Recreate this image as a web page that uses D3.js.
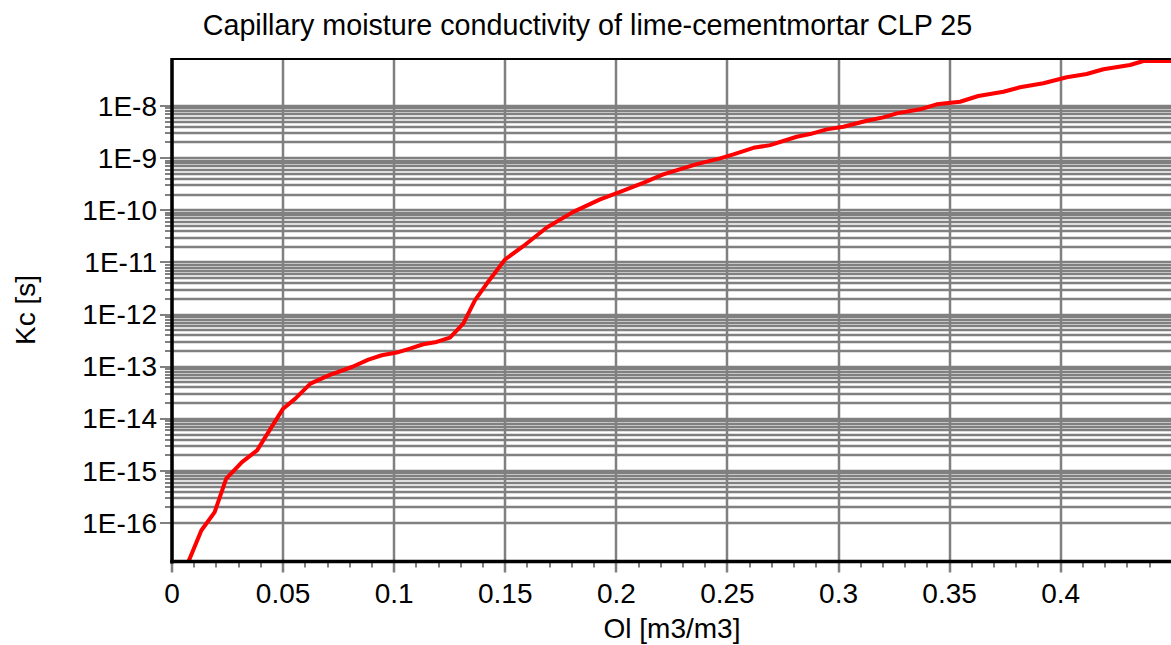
<!DOCTYPE html>
<html>
<head>
<meta charset="utf-8">
<script src="https://cdn.jsdelivr.net/npm/d3@7"></script>
<style>
  html, body { margin: 0; padding: 0; background: #fff; }
  svg { display: block; font-family: "Liberation Sans", Arial, sans-serif; }
</style>
</head>
<body>
<svg id="chart" width="1171" height="645"></svg>
<script>
// Moisture content Ol [m3/m3]
const moisture = [
  0.0075, 0.0132, 0.0192, 0.0244, 0.0315, 0.0383, 0.0450, 0.0500, 0.0555, 0.0623,
  0.0705, 0.0810, 0.0884, 0.0944, 0.1011, 0.1071, 0.1131, 0.1191, 0.1251, 0.1311,
  0.1364, 0.1417, 0.1499, 0.1581, 0.1687, 0.1806, 0.1927, 0.2017, 0.2121, 0.2211,
  0.2362, 0.2467, 0.2527, 0.2617, 0.2692, 0.2812, 0.2872, 0.2947, 0.3022, 0.3127,
  0.3202, 0.3262, 0.3367, 0.3442, 0.3547, 0.3629, 0.3742, 0.3817, 0.3922, 0.4027,
  0.4117, 0.4192, 0.4312, 0.4372, 0.4470, 0.4560
];

// Capillary moisture conductivity Kc [s]
const conductivity = [
  1.87e-17, 7.24e-17, 1.63e-16, 7.13e-16, 1.48e-15, 2.49e-15, 7.19e-15, 1.57e-14, 2.45e-14, 4.74e-14,
  6.85e-14, 9.89e-14, 1.37e-13, 1.66e-13, 1.87e-13, 2.23e-13, 2.70e-13, 2.99e-13, 3.63e-13, 6.73e-13,
  1.89e-12, 3.94e-12, 1.14e-11, 2.05e-11, 4.69e-11, 9.35e-11, 1.62e-10, 2.26e-10, 3.37e-10, 4.89e-10,
  7.71e-10, 9.91e-10, 1.18e-9, 1.58e-9, 1.78e-9, 2.58e-9, 2.90e-9, 3.57e-9, 4.01e-9, 5.22e-9,
  6.07e-9, 7.24e-9, 8.65e-9, 1.08e-8, 1.21e-8, 1.56e-8, 1.88e-8, 2.29e-8, 2.73e-8, 3.56e-8,
  4.11e-8, 5.07e-8, 6.12e-8, 7.46e-8, 9.12e-8, 1.10e-7
];

const xTickValues = [0, 0.05, 0.1, 0.15, 0.2, 0.25, 0.3, 0.35, 0.4];
const yTickLabels = ["1E-16", "1E-15", "1E-14", "1E-13", "1E-12", "1E-11", "1E-10", "1E-9", "1E-8"];
const yTickValues = [1e-16, 1e-15, 1e-14, 1e-13, 1e-12, 1e-11, 1e-10, 1e-9, 1e-8];

const titleText = "Capillary moisture conductivity of lime-cementmortar CLP 25";
const xLabel = "Ol [m3/m3]";
const yLabel = "Kc [s]";

const xDomain = [0, 0.45];
const yDomain = [1.84e-17, 7.64e-8];

// ---- layout ----
const plotLeft = 172, plotTop = 60, plotRight = 1171.8, plotBottom = 561.5;
const gridColor = "#808080";
const fontSize = 28;

const svg = d3.select("#chart");

const x = d3.scaleLinear().domain(xDomain).range([plotLeft, plotRight]);
const y = d3.scaleLog().domain(yDomain).range([plotBottom, plotTop]).clamp(true);

// log grid: 1..9 x 10^n for every full decade between the labelled decades
const logTicks = [];
for (let i = 0; i < yTickValues.length; i++) {
  const base = yTickValues[i];
  logTicks.push({ v: base, major: true });
  if (i < yTickValues.length - 1) {
    for (let m = 2; m <= 9; m++) logTicks.push({ v: m * base, major: false });
  }
}
const xMinor = d3.range(0, 46).map(i => i / 100);
const ry = v => Math.round(y(v));

// horizontal grid
svg.append("g")
  .selectAll("line").data(logTicks).join("line")
  .attr("x1", plotLeft).attr("x2", plotRight)
  .attr("y1", d => ry(d.v)).attr("y2", d => ry(d.v))
  .attr("stroke", gridColor).attr("stroke-width", 2.5);

// vertical grid (extends below the axis as the major tick)
svg.append("g")
  .selectAll("line").data(xTickValues).join("line")
  .attr("x1", d => Math.round(x(d))).attr("x2", d => Math.round(x(d)))
  .attr("y1", plotTop).attr("y2", plotBottom + 11)
  .attr("stroke", gridColor).attr("stroke-width", 2.5);

// x minor ticks
svg.append("g")
  .selectAll("line").data(xMinor).join("line")
  .attr("x1", d => Math.round(x(d))).attr("x2", d => Math.round(x(d)))
  .attr("y1", plotBottom).attr("y2", plotBottom + 6)
  .attr("stroke", gridColor).attr("stroke-width", 2);

// y ticks to the left of the axis
svg.append("g")
  .selectAll("line").data(logTicks).join("line")
  .attr("x1", d => d.major ? plotLeft - 12 : plotLeft - 7).attr("x2", plotLeft)
  .attr("y1", d => ry(d.v)).attr("y2", d => ry(d.v))
  .attr("stroke", gridColor).attr("stroke-width", 2);

// data line (values beyond the range are held at the frame edge)
svg.append("clipPath").attr("id", "plotClip")
  .append("rect").attr("x", plotLeft).attr("y", plotTop - 3)
  .attr("width", plotRight - plotLeft).attr("height", plotBottom - plotTop + 3);

const points = moisture.map((m, i) => [m, conductivity[i]]);
const line = d3.line().x(d => x(d[0])).y(d => Math.max(y(d[1]), plotTop + 1));
svg.append("path")
  .attr("clip-path", "url(#plotClip)")
  .attr("d", line(points))
  .attr("fill", "none")
  .attr("stroke", "#ff0000")
  .attr("stroke-width", 4)
  .attr("stroke-linejoin", "round");

// frame
svg.append("line").attr("x1", plotLeft).attr("x2", plotRight + 2).attr("y1", plotTop - 1).attr("y2", plotTop - 1)
  .attr("stroke", "#000").attr("stroke-width", 2);
svg.append("line").attr("x1", plotLeft).attr("x2", plotLeft).attr("y1", plotTop - 2).attr("y2", plotBottom + 2)
  .attr("stroke", "#000").attr("stroke-width", 3.5);
svg.append("line").attr("x1", plotLeft - 1.75).attr("x2", plotRight + 2).attr("y1", plotBottom).attr("y2", plotBottom)
  .attr("stroke", "#000").attr("stroke-width", 3.5);

// x tick labels
svg.append("g").selectAll("text").data(xTickValues).join("text")
  .attr("x", d => x(d)).attr("y", 603)
  .attr("text-anchor", "middle")
  .attr("font-size", fontSize).attr("fill", "#000")
  .text(d => String(d));

// y tick labels
svg.append("g").selectAll("text").data(yTickValues).join("text")
  .attr("x", 157).attr("y", d => y(d) + 9.5)
  .attr("text-anchor", "end")
  .attr("font-size", fontSize).attr("fill", "#000")
  .text((d, i) => yTickLabels[i]);

// title and axis labels
svg.append("text").attr("x", 587.5).attr("y", 35)
  .attr("text-anchor", "middle").attr("font-size", 28.7).attr("fill", "#000")
  .text(titleText);

svg.append("text").attr("x", 672).attr("y", 638)
  .attr("text-anchor", "middle").attr("font-size", fontSize).attr("fill", "#000")
  .text(xLabel);

svg.append("text")
  .attr("transform", "translate(35,310) rotate(-90)")
  .attr("text-anchor", "middle").attr("font-size", fontSize).attr("fill", "#000")
  .text(yLabel);
</script>
</body>
</html>
